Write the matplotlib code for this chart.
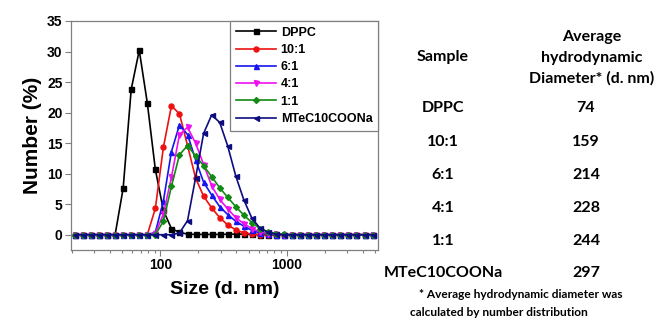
import numpy as np
import matplotlib
matplotlib.use('Agg')
import matplotlib.pyplot as plt
from matplotlib.ticker import LogLocator, NullFormatter, FixedLocator

# size classes (d. nm)
size = [21.04, 24.36, 28.21, 32.67, 37.84, 43.82, 50.75, 58.77, 68.06, 78.82,
        91.28, 105.7, 122.4, 141.8, 164.2, 190.1, 220.2, 255.0, 295.3, 342.0,
        396.1, 458.7, 531.2, 615.1, 712.4, 825.0, 955.4, 1106, 1281, 1484,
        1718, 1990, 2305, 2669, 3091, 3580, 4145, 4801]

dppc = [0, 0, 0, 0, 0, 0, 7.6, 23.8, 30.2, 21.6,
        10.7, 4.0, 1.0, 0.4, 0.1, 0.05, 0.05, 0.05, 0.05, 0.08,
        0.1, 0.1, 0.05, 0, 0, 0, 0, 0, 0, 0,
        0, 0, 0, 0, 0, 0, 0, 0]
r10_1 = [0, 0, 0, 0, 0, 0, 0, 0, 0, 0,
         4.3, 14.3, 21.1, 19.8, 14.6, 9.3, 6.3, 4.4, 2.8, 1.6,
         0.8, 0.3, 0.1, 0, 0, 0, 0, 0, 0, 0,
         0, 0, 0, 0, 0, 0, 0, 0]
r6_1 = [0, 0, 0, 0, 0, 0, 0, 0, 0, 0,
        0.4, 5.5, 13.6, 18.0, 16.4, 12.3, 8.6, 6.5, 4.6, 3.3,
        2.2, 1.4, 0.7, 0.3, 0.1, 0, 0, 0, 0, 0,
        0, 0, 0, 0, 0, 0, 0, 0]
r4_1 = [0, 0, 0, 0, 0, 0, 0, 0, 0, 0,
        0.2, 3.4, 9.4, 16.4, 17.6, 15.0, 11.5, 8.0, 5.8, 4.2,
        2.8, 1.8, 1.0, 0.5, 0.2, 0.1, 0, 0, 0, 0,
        0, 0, 0, 0, 0, 0, 0, 0]
r1_1 = [0, 0, 0, 0, 0, 0, 0, 0, 0, 0,
        0, 2.2, 7.9, 13.1, 14.6, 12.9, 11.3, 9.5, 7.7, 6.1,
        4.6, 3.2, 2.0, 1.0, 0.5, 0.2, 0.05, 0, 0, 0,
        0, 0, 0, 0, 0, 0, 0, 0]
mtec = [0, 0, 0, 0, 0, 0, 0, 0, 0, 0,
        0, 0, 0, 0.3, 2.3, 9.3, 16.6, 19.6, 18.4, 14.5,
        9.6, 5.7, 2.7, 1.1, 0.4, 0.1, 0, 0, 0, 0,
        0, 0, 0, 0, 0, 0, 0, 0]

series = [('DPPC', dppc, 'black', 's'),
          ('10:1', r10_1, '#ee1111', 'o'),
          ('6:1', r6_1, '#1515ee', '^'),
          ('4:1', r4_1, '#ee11ee', 'v'),
          ('1:1', r1_1, '#138a13', 'D'),
          ('MTeC10COONa', mtec, '#0d0d80', '<')]

samples = ['DPPC', '10:1', '6:1', '4:1', '1:1', 'MTeC10COONa']
avg_diam = [74, 159, 214, 228, 244, 297]

W, H = 657, 320
fig = plt.figure(figsize=(W / 100, H / 100), dpi=100)
ax = fig.add_axes([71 / W, 1 - 250 / H, (378 - 71) / W, (250 - 21) / H])

for name, y, c, m in series:
    ax.plot(size, y, color=c, marker=m, markersize=3.6 if m != 'D' else 3.0,
            linewidth=1.2, label=name)

ax.set_xscale('log')
ax.set_xlim(19.6, 5300)
ax.set_ylim(-2.5, 35)
ax.set_yticks(range(0, 36, 5))
ax.xaxis.set_major_locator(FixedLocator([100, 1000]))
ax.xaxis.set_minor_locator(LogLocator(base=10, subs=np.arange(2, 10)))
ax.xaxis.set_minor_formatter(NullFormatter())
ax.set_xticklabels(['100', '1000'])

for lab in ax.get_xticklabels() + ax.get_yticklabels():
    lab.set_fontfamily('Liberation Sans')
    lab.set_fontweight('bold')
    lab.set_fontsize(10)
ax.tick_params(which='major', direction='out', length=4, width=0.8, color='#808080', pad=2)
ax.tick_params(which='minor', direction='out', length=2.5, width=0.8, color='#808080')
for sp in ax.spines.values():
    sp.set_color('#808080')
    sp.set_linewidth(0.9)

ax.set_xlabel('Size (d. nm)', family='Liberation Sans', weight='bold', size=14, labelpad=6)
ax.set_ylabel('Number (%)', family='Liberation Sans', weight='bold', size=15, labelpad=4)

leg = ax.legend(loc='upper right', prop=dict(family='Liberation Sans', weight='bold', size=9),
                handlelength=3.2, handletextpad=0.4, labelspacing=0.42,
                borderaxespad=0.0, borderpad=0.45, fancybox=False, framealpha=1)
leg.get_frame().set_edgecolor('#808080')
leg.get_frame().set_linewidth(0.9)

# table on the right
tf = dict(family='Lato', weight='bold', size=11.5, ha='center', va='center')
fig.text(443 / W, 1 - 57 / H, 'Sample', **tf)
for txt, yy in zip(['Average', 'hydrodynamic', 'Diameter* (d. nm)'], [37, 58, 78]):
    fig.text(592 / W, 1 - yy / H, txt, **tf)
rows_y = [108, 142, 175, 208, 241, 273]
for s, d, yy in zip(samples, avg_diam, rows_y):
    fig.text(443 / W, 1 - yy / H, s, **tf)
    fig.text(586 / W, 1 - yy / H, str(d), **tf)

nf = dict(family='Lato', weight='bold', size=8.6, ha='left', va='center')
fig.text(419 / W, 1 - 294 / H, '* Average hydrodynamic diameter was', **nf)
fig.text(410 / W, 1 - 312 / H, 'calculated by number distribution', **nf)

fig.savefig('out.png', dpi=100)
